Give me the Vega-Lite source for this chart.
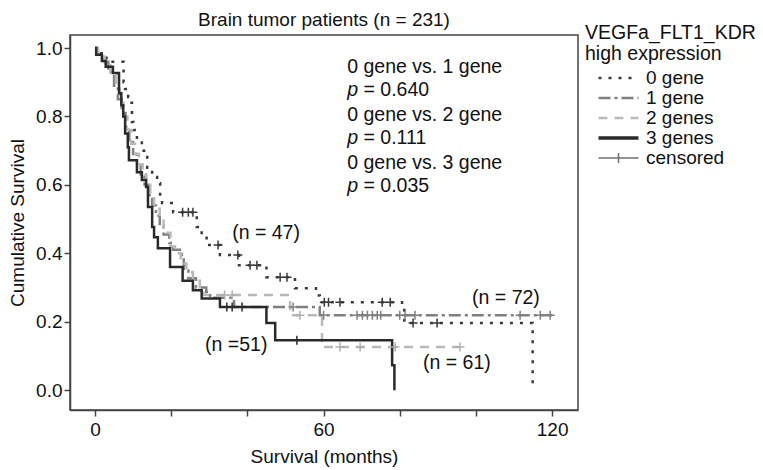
{
  "$schema": "https://vega.github.io/schema/vega-lite/v6.json",
  "autosize": {"type": "none"},
  "padding": {"left": 70, "top": 35, "right": 185, "bottom": 60},
  "width": 508,
  "height": 375,
  "background": "white",
  "config": {
    "font": "Liberation Sans",
    "view": {"stroke": "#444", "strokeWidth": 1.5},
    "axis": {"grid": false, "domainColor": "#444", "domainWidth": 1.5, "tickColor": "#444", "tickWidth": 1.5, "tickSize": 6, "labelFontSize": 19, "labelColor": "#111", "titleFontSize": 19, "titleFontWeight": "normal", "titleColor": "#111", "labelFont": "Liberation Sans", "titleFont": "Liberation Sans"}
  },
  "title": {"text": "Brain tumor patients (n = 231)", "fontSize": 19, "fontWeight": "normal", "color": "#111", "anchor": "middle", "frame": "group", "offset": -6, "font": "Liberation Sans"},
  "datasets": {
    "curves": [
      {"group": "0 gene", "t": 0, "s": 1.0}, {"group": "0 gene", "t": 0.5, "s": 0.985}, {"group": "0 gene", "t": 3.0, "s": 0.96}, {"group": "0 gene", "t": 7.5, "s": 0.9}, {"group": "0 gene", "t": 7.9, "s": 0.88}, {"group": "0 gene", "t": 8.7, "s": 0.857}, {"group": "0 gene", "t": 9.2, "s": 0.84}, {"group": "0 gene", "t": 9.7, "s": 0.784}, {"group": "0 gene", "t": 10.1, "s": 0.76}, {"group": "0 gene", "t": 11.0, "s": 0.73}, {"group": "0 gene", "t": 12.3, "s": 0.7}, {"group": "0 gene", "t": 13.7, "s": 0.65}, {"group": "0 gene", "t": 15.0, "s": 0.623}, {"group": "0 gene", "t": 16.3, "s": 0.605}, {"group": "0 gene", "t": 17.1, "s": 0.565}, {"group": "0 gene", "t": 17.6, "s": 0.547}, {"group": "0 gene", "t": 20.5, "s": 0.52}, {"group": "0 gene", "t": 26.7, "s": 0.477}, {"group": "0 gene", "t": 28.0, "s": 0.459}, {"group": "0 gene", "t": 29.3, "s": 0.424}, {"group": "0 gene", "t": 32.8, "s": 0.395}, {"group": "0 gene", "t": 37.8, "s": 0.365}, {"group": "0 gene", "t": 45.0, "s": 0.33}, {"group": "0 gene", "t": 52.5, "s": 0.298}, {"group": "0 gene", "t": 58.0, "s": 0.277}, {"group": "0 gene", "t": 59.0, "s": 0.257}, {"group": "0 gene", "t": 80.6, "s": 0.234}, {"group": "0 gene", "t": 81.2, "s": 0.196}, {"group": "0 gene", "t": 114.9, "s": 0.01},
      {"group": "1 gene", "t": 0, "s": 1.0}, {"group": "1 gene", "t": 0.5, "s": 0.98}, {"group": "1 gene", "t": 2, "s": 0.96}, {"group": "1 gene", "t": 3.5, "s": 0.93}, {"group": "1 gene", "t": 5, "s": 0.89}, {"group": "1 gene", "t": 6, "s": 0.85}, {"group": "1 gene", "t": 7, "s": 0.81}, {"group": "1 gene", "t": 8, "s": 0.77}, {"group": "1 gene", "t": 9, "s": 0.73}, {"group": "1 gene", "t": 10, "s": 0.69}, {"group": "1 gene", "t": 11, "s": 0.66}, {"group": "1 gene", "t": 12, "s": 0.63}, {"group": "1 gene", "t": 13, "s": 0.6}, {"group": "1 gene", "t": 14, "s": 0.57}, {"group": "1 gene", "t": 15, "s": 0.54}, {"group": "1 gene", "t": 16, "s": 0.51}, {"group": "1 gene", "t": 17, "s": 0.48}, {"group": "1 gene", "t": 18, "s": 0.455}, {"group": "1 gene", "t": 19.5, "s": 0.43}, {"group": "1 gene", "t": 20.5, "s": 0.41}, {"group": "1 gene", "t": 22.8, "s": 0.39}, {"group": "1 gene", "t": 23.3, "s": 0.35}, {"group": "1 gene", "t": 24.5, "s": 0.327}, {"group": "1 gene", "t": 26.5, "s": 0.3}, {"group": "1 gene", "t": 29.2, "s": 0.287}, {"group": "1 gene", "t": 30.2, "s": 0.27}, {"group": "1 gene", "t": 36.5, "s": 0.243}, {"group": "1 gene", "t": 59.0, "s": 0.219}, {"group": "1 gene", "t": 120.0, "s": 0.219},
      {"group": "2 genes", "t": 0, "s": 1.0}, {"group": "2 genes", "t": 0.8, "s": 0.975}, {"group": "2 genes", "t": 2.5, "s": 0.95}, {"group": "2 genes", "t": 4, "s": 0.92}, {"group": "2 genes", "t": 5.5, "s": 0.88}, {"group": "2 genes", "t": 6.5, "s": 0.84}, {"group": "2 genes", "t": 7.5, "s": 0.8}, {"group": "2 genes", "t": 8.5, "s": 0.76}, {"group": "2 genes", "t": 9.5, "s": 0.72}, {"group": "2 genes", "t": 10.5, "s": 0.69}, {"group": "2 genes", "t": 11.5, "s": 0.66}, {"group": "2 genes", "t": 12.5, "s": 0.63}, {"group": "2 genes", "t": 13.5, "s": 0.6}, {"group": "2 genes", "t": 14.5, "s": 0.57}, {"group": "2 genes", "t": 15.5, "s": 0.53}, {"group": "2 genes", "t": 17, "s": 0.5}, {"group": "2 genes", "t": 18, "s": 0.46}, {"group": "2 genes", "t": 19.8, "s": 0.42}, {"group": "2 genes", "t": 21, "s": 0.4}, {"group": "2 genes", "t": 22.5, "s": 0.37}, {"group": "2 genes", "t": 24, "s": 0.345}, {"group": "2 genes", "t": 25.7, "s": 0.32}, {"group": "2 genes", "t": 27.5, "s": 0.3}, {"group": "2 genes", "t": 28.5, "s": 0.278}, {"group": "2 genes", "t": 51.2, "s": 0.219}, {"group": "2 genes", "t": 59.6, "s": 0.126}, {"group": "2 genes", "t": 95.8, "s": 0.126},
      {"group": "3 genes", "t": 0, "s": 1.0}, {"group": "3 genes", "t": 0.3, "s": 0.98}, {"group": "3 genes", "t": 1.8, "s": 0.962}, {"group": "3 genes", "t": 2.8, "s": 0.945}, {"group": "3 genes", "t": 4.7, "s": 0.927}, {"group": "3 genes", "t": 6.3, "s": 0.868}, {"group": "3 genes", "t": 6.9, "s": 0.833}, {"group": "3 genes", "t": 7.4, "s": 0.8}, {"group": "3 genes", "t": 7.9, "s": 0.75}, {"group": "3 genes", "t": 8.6, "s": 0.71}, {"group": "3 genes", "t": 8.9, "s": 0.672}, {"group": "3 genes", "t": 11.0, "s": 0.637}, {"group": "3 genes", "t": 12.3, "s": 0.614}, {"group": "3 genes", "t": 13.4, "s": 0.594}, {"group": "3 genes", "t": 13.9, "s": 0.535}, {"group": "3 genes", "t": 15.0, "s": 0.477}, {"group": "3 genes", "t": 15.5, "s": 0.447}, {"group": "3 genes", "t": 16.5, "s": 0.415}, {"group": "3 genes", "t": 19.7, "s": 0.36}, {"group": "3 genes", "t": 23.0, "s": 0.32}, {"group": "3 genes", "t": 25.7, "s": 0.292}, {"group": "3 genes", "t": 28.0, "s": 0.268}, {"group": "3 genes", "t": 32.8, "s": 0.243}, {"group": "3 genes", "t": 45.0, "s": 0.196}, {"group": "3 genes", "t": 47.3, "s": 0.146}, {"group": "3 genes", "t": 78.0, "s": 0.073}, {"group": "3 genes", "t": 78.6, "s": 0.0}
    ],
    "censors": [
      {"group": "0 gene", "t": 23.0, "s": 0.52}, {"group": "0 gene", "t": 24.5, "s": 0.52}, {"group": "0 gene", "t": 25.7, "s": 0.52}, {"group": "0 gene", "t": 32.3, "s": 0.424}, {"group": "0 gene", "t": 37.5, "s": 0.395}, {"group": "0 gene", "t": 40.7, "s": 0.365}, {"group": "0 gene", "t": 42.5, "s": 0.365}, {"group": "0 gene", "t": 48.6, "s": 0.33}, {"group": "0 gene", "t": 50.4, "s": 0.33}, {"group": "0 gene", "t": 60.2, "s": 0.257}, {"group": "0 gene", "t": 61.3, "s": 0.257}, {"group": "0 gene", "t": 64.3, "s": 0.257}, {"group": "0 gene", "t": 75.4, "s": 0.257}, {"group": "0 gene", "t": 77.5, "s": 0.257}, {"group": "0 gene", "t": 83.5, "s": 0.196}, {"group": "0 gene", "t": 89.8, "s": 0.196},
      {"group": "1 gene", "t": 52.0, "s": 0.243}, {"group": "1 gene", "t": 60.0, "s": 0.219}, {"group": "1 gene", "t": 68.8, "s": 0.219}, {"group": "1 gene", "t": 70.2, "s": 0.219}, {"group": "1 gene", "t": 71.5, "s": 0.219}, {"group": "1 gene", "t": 72.8, "s": 0.219}, {"group": "1 gene", "t": 74.1, "s": 0.219}, {"group": "1 gene", "t": 75.0, "s": 0.219}, {"group": "1 gene", "t": 80.0, "s": 0.219}, {"group": "1 gene", "t": 81.4, "s": 0.219}, {"group": "1 gene", "t": 84.0, "s": 0.219}, {"group": "1 gene", "t": 111.6, "s": 0.219}, {"group": "1 gene", "t": 116.9, "s": 0.219}, {"group": "1 gene", "t": 119.5, "s": 0.219},
      {"group": "2 genes", "t": 34.0, "s": 0.278}, {"group": "2 genes", "t": 36.0, "s": 0.278}, {"group": "2 genes", "t": 53.8, "s": 0.219}, {"group": "2 genes", "t": 64.3, "s": 0.126}, {"group": "2 genes", "t": 69.6, "s": 0.126}, {"group": "2 genes", "t": 78.8, "s": 0.126}, {"group": "2 genes", "t": 95.8, "s": 0.126},
      {"group": "3 genes", "t": 34.6, "s": 0.243}, {"group": "3 genes", "t": 36.0, "s": 0.243}, {"group": "3 genes", "t": 38.6, "s": 0.243}, {"group": "3 genes", "t": 53.0, "s": 0.146}
    ],
    "notes": [
      {"x": 66.2, "y": 0.944, "label": "0 gene vs. 1 gene", "italic": false},
      {"x": 66.2, "y": 0.877, "label": "p", "italic": true},
      {"x": 70.5, "y": 0.877, "label": "= 0.640", "italic": false},
      {"x": 66.2, "y": 0.804, "label": "0 gene vs. 2 gene", "italic": false},
      {"x": 66.2, "y": 0.737, "label": "p", "italic": true},
      {"x": 70.5, "y": 0.737, "label": "= 0.111", "italic": false},
      {"x": 66.2, "y": 0.664, "label": "0 gene vs. 3 gene", "italic": false},
      {"x": 66.2, "y": 0.596, "label": "p", "italic": true},
      {"x": 70.5, "y": 0.596, "label": "= 0.035", "italic": false},
      {"x": 36.0, "y": 0.459, "label": "(n = 47)", "italic": false},
      {"x": 99.0, "y": 0.269, "label": "(n = 72)", "italic": false},
      {"x": 28.9, "y": 0.132, "label": "(n =51)", "italic": false},
      {"x": 86.1, "y": 0.079, "label": "(n = 61)", "italic": false}
    ]
  },
  "layer": [
    {
      "data": {"name": "curves"},
      "mark": {"type": "line", "interpolate": "step-after", "strokeCap": "butt", "strokeWidth": 2.5},
      "encoding": {
        "x": {"field": "t", "type": "quantitative", "scale": {"domain": [-6.57, 126.8], "nice": false, "zero": false},
              "axis": {"values": [0, 20, 40, 60, 80, 100, 120], "labelExpr": "datum.value % 60 === 0 ? datum.label : ''", "title": "Survival (months)", "labelPadding": 4, "titlePadding": 8, "labelFlush": false, "labelOverlap": false}},
        "y": {"field": "s", "type": "quantitative", "scale": {"domain": [-0.058, 1.038], "nice": false, "zero": false},
              "axis": {"values": [0, 0.2, 0.4, 0.6, 0.8, 1.0], "format": ".1f", "title": "Cumulative Survival", "titlePadding": 8, "labelPadding": 2}},
        "color": {"field": "group", "type": "nominal",
                  "scale": {"domain": ["0 gene", "1 gene", "2 genes", "3 genes", "censored"], "range": ["#3a3a3a", "#808080", "#b9b9b9", "#2a2a2a", "#707070"]},
                  "legend": {"orient": "none", "legendX": 515, "legendY": -11, "title": ["VEGFa_FLT1_KDR", "high expression"], "titleFontSize": 19.5, "titleFontWeight": "normal", "titleColor": "#111", "titleLineHeight": 21, "titlePadding": 4, "titleLimit": 300, "labelFontSize": 19, "labelColor": "#111", "labelLimit": 200, "symbolSize": 400, "symbolOffset": 24, "labelOffset": 18, "rowPadding": 0, "symbolStrokeWidth": 2.5, "padding": 0,
                    "encode": {"symbols": {"update": {"shape": {"signal": "datum.value === 'censored' ? 'M-2,0L2,0M0,-0.5L0,0.5' : 'M-2,0L2,0'"}, "strokeWidth": {"signal": "datum.value === '3 genes' ? 3.5 : (datum.value === 'censored' ? 1.5 : 2.5)"}}}}}},
        "strokeDash": {"field": "group", "type": "nominal",
                  "scale": {"domain": ["0 gene", "1 gene", "2 genes", "3 genes", "censored"], "range": [[3, 7], [12, 4, 3, 4], [9, 7], [1, 0], [1, 0]]},
                  "legend": {"orient": "none", "legendX": 515, "legendY": -11, "title": ["VEGFa_FLT1_KDR", "high expression"], "titleFontSize": 19.5, "titleFontWeight": "normal", "titleColor": "#111", "titleLineHeight": 21, "titlePadding": 4, "titleLimit": 300, "labelFontSize": 19, "labelColor": "#111", "labelLimit": 200, "symbolSize": 400, "symbolOffset": 24, "labelOffset": 18, "rowPadding": 0, "symbolStrokeWidth": 2.5, "padding": 0}},
        "strokeWidth": {"condition": {"test": "datum.group === '3 genes'", "value": 3}, "value": 2.5}
      }
    },
    {
      "data": {"name": "censors"},
      "mark": {"type": "point", "shape": "M0,-1L0,1M-1,0L1,0", "filled": false, "size": 81, "strokeWidth": 1.5, "opacity": 1},
      "encoding": {
        "x": {"field": "t", "type": "quantitative"},
        "y": {"field": "s", "type": "quantitative"},
        "stroke": {"field": "group", "type": "nominal", "scale": {"domain": ["0 gene", "1 gene", "2 genes", "3 genes"], "range": ["#3a3a3a", "#808080", "#b0b0b0", "#2a2a2a"]}, "legend": null}
      }
    },
    {
      "data": {"name": "notes"},
      "transform": [{"filter": "!datum.italic"}],
      "mark": {"type": "text", "align": "left", "baseline": "middle", "fontSize": 19.5, "font": "Liberation Sans", "color": "#111"},
      "encoding": {
        "x": {"field": "x", "type": "quantitative"},
        "y": {"field": "y", "type": "quantitative"},
        "text": {"field": "label"}
      }
    },
    {
      "data": {"name": "notes"},
      "transform": [{"filter": "datum.italic"}],
      "mark": {"type": "text", "align": "left", "baseline": "middle", "fontSize": 19.5, "font": "Liberation Sans", "fontStyle": "italic", "color": "#111"},
      "encoding": {
        "x": {"field": "x", "type": "quantitative"},
        "y": {"field": "y", "type": "quantitative"},
        "text": {"field": "label"}
      }
    }
  ]
}
